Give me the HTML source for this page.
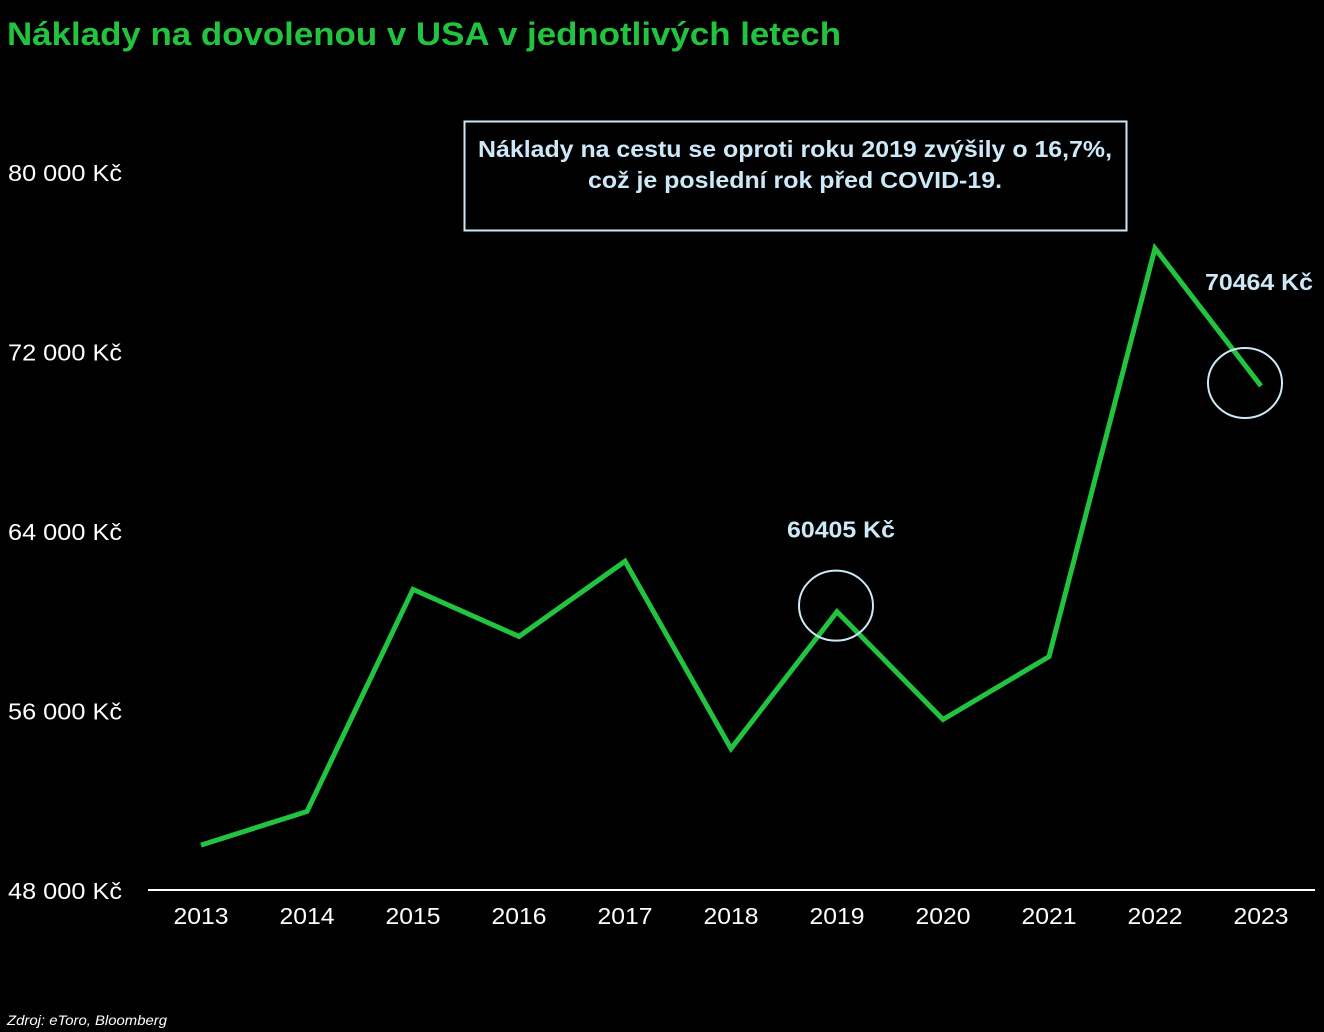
<!DOCTYPE html>
<html><head><meta charset="utf-8">
<style>
html,body{margin:0;padding:0;background:#000;width:1324px;height:1032px;overflow:hidden}
svg{display:block;font-family:"Liberation Sans",Arial,sans-serif}
</style></head>
<body>
<svg id="chart" width="1324" height="1032" viewBox="0 0 1324 1032">
<text x="7" y="45" fill="#22c43f" font-size="32" font-weight="bold" textLength="834" lengthAdjust="spacingAndGlyphs">Náklady na dovolenou v USA v jednotlivých letech</text>
<rect x="464.5" y="121.5" width="662" height="109" fill="none" stroke="#cde8f7" stroke-width="2"/>
<text x="478" y="157" fill="#cde8f7" font-size="23" font-weight="bold" textLength="634" lengthAdjust="spacingAndGlyphs">Náklady na cestu se oproti roku 2019 zvýšily o 16,7%,</text>
<text x="588" y="188" fill="#cde8f7" font-size="23" font-weight="bold" textLength="414" lengthAdjust="spacingAndGlyphs">což je poslední rok před COVID-19.</text>
<line x1="148" y1="890" x2="1315" y2="890" stroke="#fff" stroke-width="2"/>
<g id="yticks"></g><g id="xticks"></g><g id="series"></g>
<text x="7" y="1025" fill="#fff" font-size="14" font-style="italic" textLength="160" lengthAdjust="spacingAndGlyphs">Zdroj: eToro, Bloomberg</text>
</svg>
<script>
const years = ["2013","2014","2015","2016","2017","2018","2019","2020","2021","2022","2023"];
const costs = [50000,51500,61400,59300,62650,54300,60405,55600,58400,76600,70464];
const yTicks = [48000,56000,64000,72000,80000];
const yTickLabels = ["48 000 Kč","56 000 Kč","64 000 Kč","72 000 Kč","80 000 Kč"];
const highlighted = [6,10];
const highlightLabels = ["60405 Kč","70464 Kč"];

const NS="http://www.w3.org/2000/svg";
function yS(v){return 890-(v-48000)*(718/32000);}
function xS(i){return 201+i*106;}
function mk(tag,attrs,parent){const e=document.createElementNS(NS,tag);for(const k in attrs)e.setAttribute(k,attrs[k]);parent.appendChild(e);return e;}

const yg=document.getElementById('yticks');
yTicks.forEach((v,i)=>{
  const t=mk('text',{x:8,y:yS(v)+9,fill:'#fff','font-size':23,textLength:114,lengthAdjust:'spacingAndGlyphs'},yg);
  t.textContent=yTickLabels[i];
  
  
});
const xg=document.getElementById('xticks');
years.forEach((y,i)=>{
  const t=mk('text',{x:xS(i)-27.5,y:924,fill:'#fff','font-size':23,textLength:55,lengthAdjust:'spacingAndGlyphs'},xg);
  t.textContent=y;
  
  
});
const sg=document.getElementById('series');
const pts=costs.map((v,i)=>xS(i)+','+yS(v)).join(' ');
const line=mk('polyline',{points:pts,fill:'none',stroke:'#22c43f','stroke-width':5,'stroke-linejoin':'miter'},sg);


highlighted.forEach((idx,k)=>{
  const cx=xS(idx)-(idx===6?1:16), cy=yS(costs[idx])-(idx===6?6:3);
  const c=mk('ellipse',{cx:cx,cy:cy,rx:37,ry:35,fill:'none',stroke:'#cde8f7','stroke-width':2},sg);
  
  
  const tx=idx===6?xS(idx)-50:1205, ty=idx===6?yS(costs[idx])-74:yS(costs[idx])-96;
  const t=mk('text',{x:tx,y:ty,fill:'#cde8f7','font-size':23,'font-weight':'bold',textLength:108,lengthAdjust:'spacingAndGlyphs'},sg);
  t.textContent=highlightLabels[k];
  
  
});
</script>
</body></html>
